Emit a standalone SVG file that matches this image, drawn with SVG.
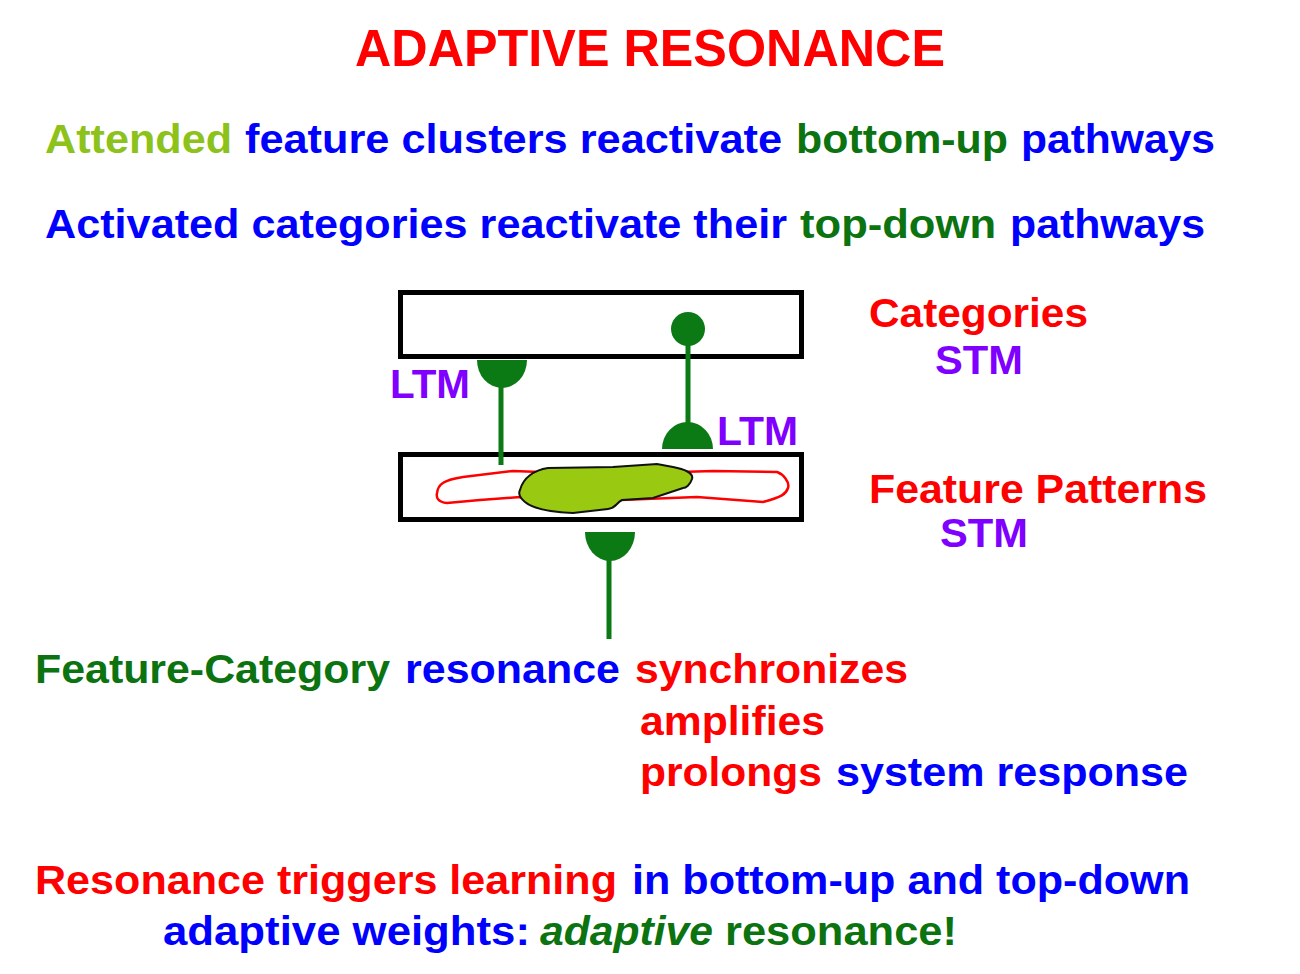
<svg xmlns="http://www.w3.org/2000/svg" width="1300" height="974" viewBox="0 0 1300 974">
<style>
text{font-family:"Liberation Sans",Arial,sans-serif;font-weight:bold;font-size:41px}
.r{fill:#ff0000}.b{fill:#0000ff}.g{fill:#0b730f}.lg{fill:#8cc21a}.p{fill:#8000ff}
.box{fill:#ffffff;stroke:#000000;stroke-width:5}
.stem{stroke:#0b7a14;stroke-width:5;fill:none}
.knob{fill:#0b7a14}
</style>
<rect width="1300" height="974" fill="#ffffff"/>
<g id="title"><text x="355" y="66" class="r" style="font-size:51px" textLength="590" lengthAdjust="spacingAndGlyphs">ADAPTIVE RESONANCE</text></g>
<g id="line1">
<text x="45" y="153" class="lg" textLength="187" lengthAdjust="spacingAndGlyphs">Attended</text>
<text x="245" y="153" class="b" textLength="537" lengthAdjust="spacingAndGlyphs">feature clusters reactivate</text>
<text x="796" y="153" class="g" textLength="212" lengthAdjust="spacingAndGlyphs">bottom-up</text>
<text x="1021" y="153" class="b" textLength="194" lengthAdjust="spacingAndGlyphs">pathways</text>
</g>
<g id="line2">
<text x="45" y="238" class="b" textLength="742" lengthAdjust="spacingAndGlyphs">Activated categories reactivate their</text>
<text x="800" y="238" class="g" textLength="196" lengthAdjust="spacingAndGlyphs">top-down</text>
<text x="1010" y="238" class="b" textLength="195" lengthAdjust="spacingAndGlyphs">pathways</text>
</g>
<g id="categories">
<rect class="box" x="400.5" y="292.5" width="401" height="64"/>
</g>
<g id="features">
<rect class="box" x="400.5" y="454.5" width="401" height="65"/>
<path d="M437,493 C438,484 444,480 463,477 L513,471 L540,472 L600,471 L680,472 L713,471 L777,472 C783,474 790,482 788,488 C786,494 782,497 763,502 L697,497 L620,500 L573,505 L520,497 L480,500 L447,503 C438,502 436,498 437,493 Z" fill="none" stroke="#ff0000" stroke-width="2.5"/>
<path d="M520,490 C523,478 534,470 548,468 L613,467 L657,464 L673,467 C684,469 694,473 692,479 C690,485 686,488 683,488 L653,498 L622,500 C616,503 616,508 608,509 L573,513 C550,512 532,508 525,502 C520,498 518,494 520,490 Z" fill="#99c910" stroke="#111111" stroke-width="2"/>
</g>
<g id="labels">
<text x="869" y="327" class="r" textLength="219" lengthAdjust="spacingAndGlyphs">Categories</text>
<text x="935" y="374" class="p" textLength="88" lengthAdjust="spacingAndGlyphs">STM</text>
<text x="869" y="503" class="r" textLength="338" lengthAdjust="spacingAndGlyphs">Feature Patterns</text>
<text x="940" y="547" class="p" textLength="88" lengthAdjust="spacingAndGlyphs">STM</text>
<text x="390" y="398" class="p" textLength="80" lengthAdjust="spacingAndGlyphs">LTM</text>
<text x="717" y="445" class="p" textLength="81" lengthAdjust="spacingAndGlyphs">LTM</text>
</g>
<g id="connectors">
<path class="knob" d="M477,360 L527,360 A25,28 0 0 1 477,360 Z"/>
<line class="stem" x1="501" y1="385" x2="501" y2="465"/>
<circle class="knob" cx="688" cy="329" r="17"/>
<line class="stem" x1="688" y1="329" x2="688" y2="430"/>
<path class="knob" d="M662,449 L713,449 A25.5,27 0 0 0 662,449 Z"/>
<path class="knob" d="M585,532 L635,532 A25,29 0 0 1 585,532 Z"/>
<line class="stem" x1="609" y1="555" x2="609" y2="639"/>
</g>
<g id="resonance">
<text x="35" y="683" class="g" textLength="355" lengthAdjust="spacingAndGlyphs">Feature-Category</text>
<text x="405" y="683" class="b" textLength="215" lengthAdjust="spacingAndGlyphs">resonance</text>
<text x="635" y="683" class="r" textLength="273" lengthAdjust="spacingAndGlyphs">synchronizes</text>
<text x="640" y="735" class="r" textLength="185" lengthAdjust="spacingAndGlyphs">amplifies</text>
<text x="640" y="786" class="r" textLength="182" lengthAdjust="spacingAndGlyphs">prolongs</text>
<text x="836" y="786" class="b" textLength="352" lengthAdjust="spacingAndGlyphs">system response</text>
</g>
<g id="learning">
<text x="35" y="894" class="r" textLength="582" lengthAdjust="spacingAndGlyphs">Resonance triggers learning</text>
<text x="632" y="894" class="b" textLength="558" lengthAdjust="spacingAndGlyphs">in bottom-up and top-down</text>
<text x="163" y="945" class="b" textLength="367" lengthAdjust="spacingAndGlyphs">adaptive weights:</text>
<text x="540" y="945" class="g" style="font-style:italic" textLength="173" lengthAdjust="spacingAndGlyphs">adaptive</text>
<text x="725" y="945" class="g" textLength="232" lengthAdjust="spacingAndGlyphs">resonance!</text>
</g>
</svg>
